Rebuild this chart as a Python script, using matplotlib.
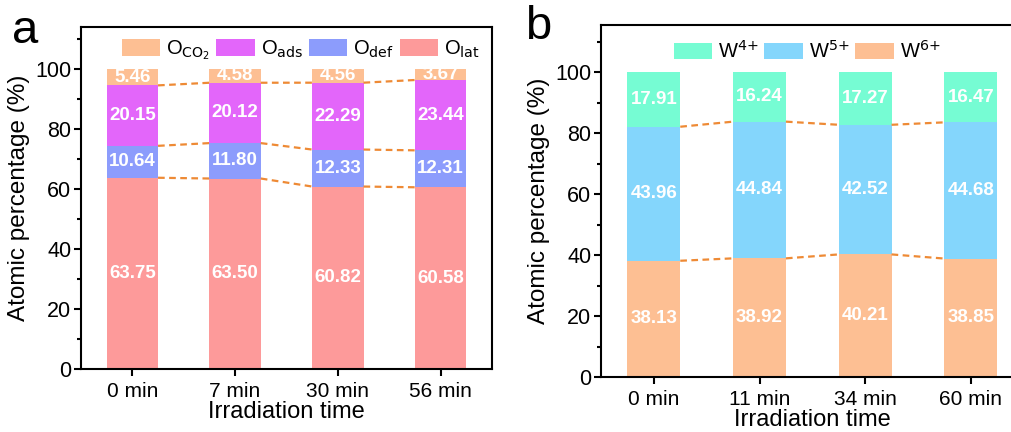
import numpy as np
import matplotlib.pyplot as plt
from matplotlib.ticker import MultipleLocator

plt.rcParams['font.family'] = ['Liberation Sans', 'DejaVu Sans']

# panel a: oxygen species
times_a = ['0 min', '7 min', '30 min', '56 min']
o_lat = [63.75, 63.50, 60.82, 60.58]
o_def = [10.64, 11.80, 12.33, 12.31]
o_ads = [20.15, 20.12, 22.29, 23.44]
o_co2 = [5.46, 4.58, 4.56, 3.67]

# panel b: tungsten states
times_b = ['0 min', '11 min', '34 min', '60 min']
w6 = [38.13, 38.92, 40.21, 38.85]
w5 = [43.96, 44.84, 42.52, 44.68]
w4 = [17.91, 16.24, 17.27, 16.47]

col_co2 = '#FDBF93'
col_ads = '#E366FA'
col_def = '#8C9CFC'
col_lat = '#FD9A9A'
col_w4 = '#76FCD3'
col_w5 = '#84D6FC'
col_w6 = '#FDBF93'
dash_col = '#EE8A35'

width = 0.5

fig = plt.figure(figsize=(10.11, 4.32), dpi=100)
ax1 = fig.add_axes([0.0801, 0.1458, 0.4065, 0.7917])
ax2 = fig.add_axes([0.5945, 0.1273, 0.418, 0.8137])


def stacked(ax, labels, series, colors, names):
    x = np.arange(len(labels))
    bottom = np.zeros(len(labels))
    for vals, c, n in zip(series, colors, names):
        vals = np.array(vals)
        ax.bar(x, vals, width, bottom=bottom, color=c, label=n, linewidth=0)
        for xi, b, v in zip(x, bottom, vals):
            ax.text(xi, b + v / 2, f'{v:.2f}', ha='center', va='center',
                    color='white', fontsize=13.5, fontweight='bold')
        bottom = bottom + vals
        # dashed connectors between bars
        if n != names[-1]:
            for i in range(len(x) - 1):
                ax.plot([x[i] + width / 2, x[i + 1] - width / 2], [bottom[i], bottom[i + 1]],
                        ls=(0, (3, 2)), color=dash_col, lw=1.6, zorder=3)
    ax.set_xticks(x)
    ax.set_xticklabels(labels, fontsize=15)
    ax.set_xlim(-0.5, 3.5)
    ax.yaxis.set_major_locator(MultipleLocator(20))
    ax.yaxis.set_minor_locator(MultipleLocator(10))
    ax.set_yticks([0, 20, 40, 60, 80, 100])
    ax.tick_params(axis='y', which='major', labelsize=15.5, length=5, width=1.5, direction='out', pad=2)
    ax.tick_params(axis='x', which='major', length=5, width=1.5, direction='out', pad=4)
    ax.tick_params(axis='y', which='minor', length=3, width=1.5, direction='out')
    for s in ax.spines.values():
        s.set_linewidth(1.5)
    ax.set_xlabel('Irradiation time', fontsize=17, labelpad=0)
    ax.set_ylabel('Atomic percentage (%)', fontsize=17.5, labelpad=4)


stacked(ax1, times_a, [o_lat, o_def, o_ads, o_co2], [col_lat, col_def, col_ads, col_co2],
        ['O$_{\\mathrm{lat}}$', 'O$_{\\mathrm{def}}$', 'O$_{\\mathrm{ads}}$', 'O$_{\\mathrm{CO_2}}$'])
ax1.set_ylim(0, 114)
h, l = ax1.get_legend_handles_labels()
ax1.legend(h[::-1], l[::-1], loc='upper center', ncol=4, frameon=False, fontsize=14.5,
           handlelength=1.9, handleheight=0.9, columnspacing=0.3, handletextpad=0.3,
           bbox_to_anchor=(0.535, 1.02))

stacked(ax2, times_b, [w6, w5, w4], [col_w6, col_w5, col_w4],
        ['W$^{6{+}}$', 'W$^{5{+}}$', 'W$^{4{+}}$'])
ax2.set_ylim(0, 115.3)
h, l = ax2.get_legend_handles_labels()
ax2.legend(h[::-1], l[::-1], loc='upper center', ncol=3, frameon=False, fontsize=14.5,
           handlelength=1.9, handleheight=0.9, columnspacing=0.3, handletextpad=0.3,
           bbox_to_anchor=(0.487, 1.01))

fig.text(0.012, 0.90, 'a', fontsize=34)
fig.text(0.519, 0.91, 'b', fontsize=34)

fig.savefig('out.png', dpi=100)
